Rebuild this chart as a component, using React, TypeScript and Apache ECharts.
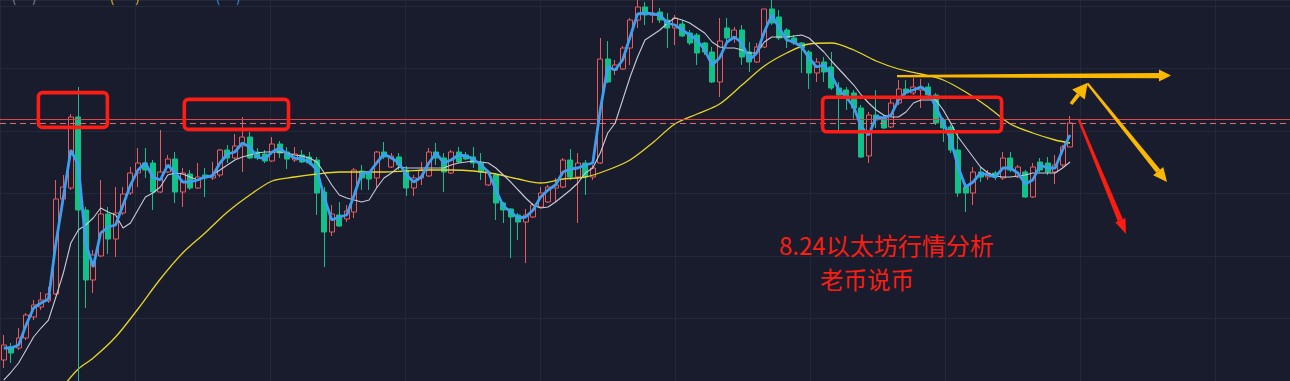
import React, { useEffect, useRef } from "react";
import * as echarts from "echarts";

const OPEN = [
  1664.0,1665.3,1665.2,1666.2,1668.3,1669.3,1669.9,1670.6,1680.1,1681.2,
  1688.3,1679.0,1672.0,1674.4,1678.6,1676.1,1678.7,1680.7,1682.7,1683.7,
  1683.7,1680.8,1682.8,1684.1,1680.8,1682.6,1681.2,1682.5,1682.2,1682.5,
  1685.0,1684.2,1685.4,1686.3,1684.8,1684.6,1683.9,1685.6,1684.8,1684.0,
  1684.5,1684.3,1684.0,1680.8,1676.8,1678.5,1678.1,1678.8,1682.9,1682.7,
  1682.2,1684.8,1683.3,1684.3,1683.0,1681.2,1682.2,1682.4,1684.8,1684.2,
  1682.7,1684.8,1684.5,1684.3,1683.7,1681.5,1682.5,1679.7,1679.1,1678.5,
  1677.8,1678.3,1679.3,1679.8,1681.2,1681.3,1684.0,1682.3,1683.7,1682.3,
  1683.7,1694.1,1693.0,1693.1,1695.2,1698.0,1699.3,1698.5,1698.8,1698.0,
  1697.2,1697.6,1696.7,1696.5,1695.7,1694.8,1691.8,1697.2,1696.3,1697.0,
  1694.8,1693.8,1695.3,1699.1,1698.3,1697.0,1696.2,1695.7,1694.8,1692.7,
  1693.8,1693.3,1691.2,1691.0,1690.7,1689.2,1684.4,1688.5,1688.2,1687.3,
  1689.7,1691.1,1690.7,1691.0,1691.3,1690.5,1688.0,1687.3,1685.0,1681.3,
  1680.7,1682.8,1682.3,1682.7,1682.2,1684.2,1682.3,1682.8,1680.3,1683.8,
  1683.7,1682.8,1683.5,1685.3,
];
const CLOSE = [
  1665.5,1664.7,1666.2,1668.5,1669.5,1670.0,1670.6,1680.1,1681.3,1688.3,
  1679.0,1672.0,1674.5,1678.6,1676.1,1678.7,1680.6,1682.7,1683.7,1683.0,
  1680.8,1682.8,1684.1,1680.8,1682.7,1681.2,1682.3,1682.2,1682.5,1685.0,
  1684.2,1685.4,1686.3,1684.2,1684.2,1683.9,1685.6,1684.7,1684.1,1684.6,
  1683.8,1683.7,1680.7,1676.8,1678.6,1677.4,1678.9,1683.0,1682.2,1682.1,
  1684.8,1684.3,1684.4,1683.5,1681.2,1682.2,1683.0,1684.8,1684.2,1682.8,
  1684.8,1683.8,1684.1,1683.7,1682.8,1682.8,1679.7,1679.0,1678.3,1677.8,
  1678.5,1679.5,1680.7,1681.3,1681.5,1684.0,1682.3,1683.7,1682.3,1683.2,
  1694.1,1691.8,1693.5,1695.2,1698.0,1699.3,1698.5,1698.7,1698.0,1697.2,
  1698.2,1696.4,1695.7,1694.7,1694.8,1691.8,1695.9,1696.2,1697.0,1694.3,
  1693.8,1695.3,1699.1,1697.7,1696.2,1696.2,1695.7,1695.2,1692.7,1693.8,
  1692.8,1691.2,1690.5,1690.2,1689.2,1684.3,1688.5,1688.0,1687.2,1689.7,
  1691.1,1690.7,1691.3,1691.3,1690.5,1687.7,1687.2,1685.0,1680.7,1680.7,
  1682.8,1682.3,1682.7,1682.3,1684.2,1683.0,1683.3,1680.3,1683.3,1683.0,
  1682.8,1683.5,1685.3,1687.7,
];
const LOW = [
  1663.2,1663.7,1665.0,1666.0,1668.0,1669.0,1669.7,1670.5,1680.0,1681.0,
  1678.8,1669.2,1670.7,1674.3,1674.6,1674.3,1678.5,1680.5,1681.3,1682.2,
  1679.0,1680.7,1682.7,1679.7,1679.3,1681.0,1681.1,1680.3,1682.0,1682.3,
  1683.7,1684.1,1682.8,1684.1,1684.0,1683.7,1683.8,1684.2,1683.1,1683.8,
  1683.7,1683.5,1678.5,1673.3,1676.4,1677.3,1677.8,1678.2,1681.0,1681.0,
  1681.2,1684.1,1683.2,1683.0,1680.4,1680.4,1681.5,1682.3,1683.5,1680.8,
  1682.6,1683.7,1684.0,1683.2,1682.0,1681.4,1678.0,1677.7,1674.2,1676.0,
  1673.7,1678.2,1679.2,1679.7,1679.8,1681.2,1682.0,1677.7,1680.5,1682.0,
  1683.6,1691.7,1692.5,1693.0,1693.5,1697.2,1697.5,1697.7,1697.7,1695.2,
  1695.5,1696.3,1695.5,1693.5,1694.5,1691.7,1690.3,1695.8,1695.7,1693.5,
  1692.8,1693.7,1695.2,1697.5,1696.0,1695.2,1695.5,1692.7,1691.1,1691.8,
  1691.8,1691.0,1687.0,1689.0,1688.0,1684.2,1683.7,1687.2,1687.1,1687.2,
  1689.5,1690.5,1690.5,1689.2,1690.3,1687.5,1685.8,1684.7,1680.3,1678.8,
  1679.5,1681.8,1682.0,1682.0,1682.0,1682.8,1682.2,1680.2,1680.2,1682.8,
  1682.5,1681.6,1683.3,1685.3,
];
const HIGH = [
  1666.5,1665.7,1667.2,1668.7,1670.0,1670.8,1671.3,1682.0,1682.5,1688.6,
  1688.7,1679.3,1675.0,1682.0,1679.3,1681.3,1681.3,1683.3,1685.2,1685.2,
  1684.0,1687.0,1684.5,1684.8,1683.2,1683.0,1683.7,1683.2,1683.8,1685.1,
  1685.5,1686.6,1688.3,1686.8,1685.2,1685.0,1686.3,1685.9,1685.3,1685.3,
  1685.0,1684.8,1684.3,1681.3,1679.5,1679.8,1679.5,1683.2,1683.5,1682.8,
  1684.9,1685.8,1684.7,1684.7,1683.4,1682.5,1683.8,1685.2,1685.7,1684.7,
  1685.0,1685.3,1684.8,1685.3,1684.7,1683.0,1682.7,1679.8,1679.2,1678.7,
  1679.1,1679.7,1681.3,1681.5,1682.2,1684.2,1685.1,1684.7,1684.0,1683.5,
  1696.2,1695.9,1694.0,1695.4,1698.2,1700.0,1699.8,1700.0,1699.2,1698.7,
  1698.5,1698.0,1697.0,1696.7,1695.8,1695.3,1698.2,1698.2,1697.3,1697.5,
  1695.8,1695.7,1699.1,1700.0,1699.0,1697.2,1696.5,1695.8,1695.0,1694.2,
  1694.3,1694.8,1691.8,1691.3,1691.0,1689.5,1688.8,1691.0,1688.5,1690.1,
  1692.0,1692.0,1692.2,1692.1,1691.7,1690.7,1688.2,1687.5,1686.7,1681.7,
  1683.3,1683.3,1683.0,1682.9,1684.8,1684.8,1683.5,1683.0,1683.7,1684.2,
  1684.3,1684.5,1685.5,1688.4,
];
const MA_BLUE = [
  1665.2,1665.2,1665.5,1667.5,1669.2,1669.7,1670.1,1675.7,1680.3,1685.0,
  1683.5,1675.7,1673.3,1676.7,1677.3,1677.5,1679.5,1681.5,1683.0,1683.7,
  1682.3,1682.0,1683.5,1682.7,1681.8,1681.8,1682.0,1682.3,1682.4,1683.7,
  1684.6,1684.8,1685.7,1685.3,1684.3,1684.1,1684.8,1685.2,1684.6,1684.2,
  1684.1,1683.8,1683.0,1680.2,1678.0,1678.3,1678.5,1680.5,1682.7,1682.7,
  1683.7,1684.6,1684.2,1683.7,1682.5,1681.8,1682.3,1683.7,1684.7,1683.7,
  1684.0,1684.5,1684.4,1684.1,1683.5,1682.8,1681.0,1679.4,1678.8,1678.2,
  1678.3,1679.0,1680.3,1681.0,1681.5,1682.8,1683.1,1683.2,1683.5,1683.7,
  1689.0,1693.3,1693.0,1694.0,1696.3,1698.6,1698.7,1698.6,1698.5,1697.7,
  1697.5,1697.0,1696.5,1696.0,1695.0,1693.5,1694.2,1695.8,1696.3,1695.7,
  1694.0,1694.7,1696.8,1698.5,1697.2,1696.0,1695.8,1695.3,1694.2,1693.3,
  1693.5,1692.5,1691.0,1690.3,1689.3,1687.3,1686.5,1688.3,1688.2,1688.5,
  1690.0,1690.8,1691.0,1691.3,1690.8,1689.3,1687.8,1686.0,1683.3,1681.3,
  1681.8,1682.7,1682.5,1682.3,1683.2,1683.2,1682.7,1681.6,1682.0,1683.5,
  1683.2,1683.2,1685.0,1686.5,
];
const MA_WHITE = [
  1662.0,1662.8,1663.7,1665.0,1666.3,1667.2,1668.0,1670.3,1672.7,1675.7,
  1677.0,1677.5,1678.2,1679.2,1678.8,1678.5,1677.2,1677.7,1679.0,1680.3,
  1680.7,1681.3,1682.5,1682.7,1682.6,1682.3,1682.0,1682.3,1682.5,1683.0,
  1683.5,1684.0,1684.3,1684.5,1684.7,1684.8,1684.8,1684.8,1684.7,1684.5,
  1684.4,1684.2,1683.8,1682.7,1681.5,1680.5,1680.2,1680.0,1679.8,1680.0,
  1681.2,1682.2,1682.7,1683.3,1683.2,1683.2,1683.2,1683.2,1683.2,1683.2,
  1683.5,1683.7,1683.8,1683.9,1683.8,1683.7,1683.2,1682.5,1681.8,1681.0,
  1680.2,1679.5,1679.2,1679.3,1679.8,1680.4,1681.0,1681.7,1682.7,1683.2,
  1684.7,1686.7,1687.7,1690.0,1692.3,1694.3,1696.0,1696.5,1697.0,1697.7,
  1698.2,1698.0,1697.7,1697.2,1696.7,1695.8,1695.3,1695.2,1695.2,1695.0,
  1694.7,1694.7,1695.8,1696.3,1696.3,1696.3,1696.4,1696.5,1696.2,1695.5,
  1694.8,1693.9,1693.1,1692.3,1691.5,1690.5,1689.7,1689.0,1688.5,1688.3,
  1688.3,1688.8,1689.7,1690.0,1690.0,1690.0,1689.0,1687.7,1686.3,1685.3,
  1684.3,1683.3,1682.7,1682.4,1682.3,1682.3,1682.4,1682.5,1682.7,1682.7,
  1682.7,1682.7,1683.2,1683.8,
];
const MA_YELLOW_IDX = [
  8, 10, 12, 15, 18, 21, 24, 27, 30, 33, 36, 39, 42, 45, 48, 51, 54, 57, 60, 63,
  66, 69, 72, 75, 78, 81, 84, 87, 90, 93, 96, 99, 102, 105, 108, 111, 114, 117,
  120, 123, 126, 129, 132, 135, 138, 141, 143,
];
const MA_YELLOW = [
  1661.4, 1663.1, 1664.2, 1666.3, 1669.1, 1672.1, 1674.7, 1676.7, 1678.8, 1680.5,
  1681.9, 1682.3, 1682.6, 1682.8, 1682.8, 1682.8, 1682.9, 1683.0, 1683.0, 1682.9,
  1682.6, 1682.1, 1681.7, 1682.1, 1682.3, 1683.0, 1684.0, 1685.7, 1687.6, 1688.6,
  1689.6, 1691.5, 1693.4, 1694.7, 1695.6, 1695.7, 1695.0, 1693.9, 1693.1, 1692.6,
  1692.0, 1690.8, 1689.3, 1687.6, 1686.7, 1686.0, 1685.7,
];
const SLOT_COUNT = 173;
const DRAWN_LEVEL = 1688.1;
const CURSOR_INDEX = 10;
const CURSOR_TOP = 1691.3;
const PRICE_MIN = 1661.9;
const PRICE_MAX = 1700;
const TITLE_LINE1 = "8.24以太坊行情分析";
const TITLE_LINE2 = "老币说币";

const BG = "#181c2c";
const UP = "#e85a5c";
const DOWN = "#10c28a";
const ARROW_YELLOW = "#fbb800";
const ARROW_RED = "#fb1d12";
const BOX_RED = "#ff1c14";
const CJK = '"Noto Sans CJK SC", "Noto Sans", sans-serif';

function arrow(x0: number, y0: number, x1: number, y1: number, w0: number, w1: number, headLen: number, headHalf: number, color: string) {
  const dx = x1 - x0, dy = y1 - y0;
  const len = Math.hypot(dx, dy);
  const ux = dx / len, uy = dy / len;
  const px = -uy, py = ux;
  const bx = x1 - ux * headLen, by = y1 - uy * headLen;
  const body = [
    [x0 + px * w0 / 2, y0 + py * w0 / 2],
    [bx + px * w1 / 2, by + py * w1 / 2],
    [bx - px * w1 / 2, by - py * w1 / 2],
    [x0 - px * w0 / 2, y0 - py * w0 / 2],
  ];
  const head = [
    [x1, y1],
    [bx + px * headHalf, by + py * headHalf],
    [bx - px * headHalf, by - py * headHalf],
  ];
  return [
    { type: "polygon", shape: { points: body }, style: { fill: color }, silent: true, z: 100 },
    { type: "polygon", shape: { points: head }, style: { fill: color }, silent: true, z: 100 },
  ];
}

export default function App() {
  const ref = useRef<HTMLDivElement>(null);
  useEffect(() => {
    document.body.style.margin = "0";
    document.body.style.background = BG;
    const chart = echarts.init(ref.current!, null, { renderer: "svg" });
    const categories = Array.from({ length: SLOT_COUNT }, (_, i) => String(i));
    const candles = OPEN.map((o, i) => [o, CLOSE[i], LOW[i], HIGH[i]]);
    const lastClose = CLOSE[CLOSE.length - 1];
    const yellow = MA_YELLOW_IDX.map((k, i) => [k, MA_YELLOW[i]]);

    const boxStyle = { fill: "none", stroke: BOX_RED, lineWidth: 3.6 };
    const graphics: any[] = [
      { type: "rect", shape: { x: 38.4, y: 92.6, width: 69, height: 34.8, r: 4 }, style: boxStyle, z: 100 },
      { type: "rect", shape: { x: 184.3, y: 99.4, width: 104.2, height: 30, r: 4 }, style: boxStyle, z: 100 },
      { type: "rect", shape: { x: 822.6, y: 97.2, width: 179, height: 34.6, r: 4 }, style: boxStyle, z: 100 },
      ...arrow(897, 76.2, 1171, 75.5, 2.2, 5.2, 12, 6, ARROW_YELLOW),
      ...arrow(1071, 104, 1087.7, 82.7, 3.5, 4, 15, 8, ARROW_YELLOW),
      ...arrow(1087.5, 83.5, 1167, 182, 2.2, 5, 14, 6.5, ARROW_YELLOW),
      ...arrow(1079, 120, 1126, 234, 2.2, 5.5, 15, 5.5, ARROW_RED),
      { type: "text", x: 779, y: 244.5, style: { text: TITLE_LINE1, fill: ARROW_RED, fontSize: 24, lineHeight: 24, fontFamily: CJK, verticalAlign: "middle" }, z: 100 },
      { type: "text", x: 820, y: 278.5, style: { text: TITLE_LINE2, fill: ARROW_RED, fontSize: 23.5, lineHeight: 24, fontFamily: CJK, verticalAlign: "middle" }, z: 100 },
      { type: "text", x: 12, y: 3, style: { text: "(      )", fill: "#8d93a6", fontSize: 12, fontFamily: CJK, verticalAlign: "bottom" }, z: 100 },
      { type: "text", x: 110, y: 3, style: { text: "(        )", fill: "#e0d020", fontSize: 12, fontFamily: CJK, verticalAlign: "bottom" }, z: 100 },
      { type: "text", x: 216, y: 3, style: { text: "(      )", fill: "#3d9ff0", fontSize: 12, fontFamily: CJK, verticalAlign: "bottom" }, z: 100 },
    ];

    chart.setOption({
      animation: false,
      backgroundColor: BG,
      grid: [
        { left: -3, right: -4.5, top: 0, bottom: 0 },
        { left: 0, right: 0, top: 0, bottom: 0 },
      ],
      xAxis: [
        { type: "category", gridIndex: 0, data: categories, boundaryGap: true, show: false },
        {
          type: "value", gridIndex: 1, min: -38, max: 1252, interval: 135,
          axisLine: { show: false }, axisTick: { show: false }, axisLabel: { show: false },
          splitLine: { show: true, lineStyle: { color: "#23283a", width: 1 } },
        },
      ],
      yAxis: [
        { type: "value", gridIndex: 0, min: PRICE_MIN, max: PRICE_MAX, show: false, scale: true },
        {
          type: "value", gridIndex: 1, min: -16, max: 365, interval: 62.5,
          axisLine: { show: false }, axisTick: { show: false }, axisLabel: { show: false },
          splitLine: { show: true, lineStyle: { color: "#23283a", width: 1 } },
        },
      ],
      series: [
        {
          type: "candlestick",
          xAxisIndex: 0, yAxisIndex: 0,
          data: candles,
          barWidth: 5.5,
          itemStyle: { color: BG, color0: DOWN, borderColor: UP, borderColor0: DOWN, borderWidth: 1 },
          markLine: {
            silent: true,
            symbol: ["none", "none"],
            label: { show: false },
            data: [
              { yAxis: DRAWN_LEVEL, lineStyle: { type: "solid", color: "#d8474a", width: 1 } },
              { yAxis: lastClose, lineStyle: { type: [6, 4], color: "#e36a6a", width: 1 } },
              [
                { coord: [CURSOR_INDEX, CURSOR_TOP], lineStyle: { type: "solid", color: "#1fb98a", width: 1 } },
                { coord: [CURSOR_INDEX, PRICE_MIN] },
              ],
            ],
          },
          z: 3,
        },
        {
          type: "line", xAxisIndex: 0, yAxisIndex: 0, data: yellow, showSymbol: false, smooth: 0.3,
          lineStyle: { color: "#e6d625", width: 1.3 }, z: 4,
        },
        {
          type: "line", xAxisIndex: 0, yAxisIndex: 0, data: MA_WHITE, showSymbol: false,
          lineStyle: { color: "#c9cbd8", width: 1.1 }, z: 5,
        },
        {
          type: "line", xAxisIndex: 0, yAxisIndex: 0, data: MA_BLUE, showSymbol: false,
          lineStyle: { color: "#3d9ff0", width: 2.8 }, z: 6,
        },
      ],
      graphic: graphics,
    });
    return () => chart.dispose();
  }, []);
  return <div ref={ref} style={{ position: "fixed", left: 0, top: 0, width: 1290, height: 381 }} />;
}
